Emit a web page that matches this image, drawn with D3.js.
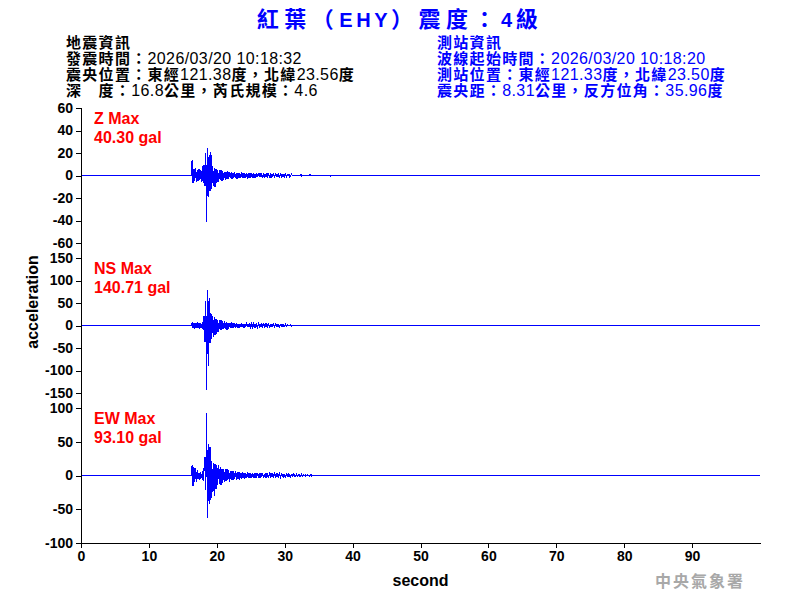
<!DOCTYPE html>
<html>
<head>
<meta charset="utf-8">
<script src="https://cdn.jsdelivr.net/npm/d3@7"></script>
<style>
  body { margin: 0; background: #fff; }
  svg text { font-family: "Liberation Sans", Arial, "Noto Sans CJK TC", sans-serif; }
</style>
</head>
<body>
<div id="chart"></div>
<script>
/* ---- data ---- */
const title = '紅葉（EHY）震度：4級'
const quakeInfo = ['地震資訊', '發震時間：2026/03/20 10:18:32', '震央位置：東經121.38度，北緯23.56度', '深　度：16.8公里，芮氏規模：4.6']
const stationInfo = ['測站資訊', '波線起始時間：2026/03/20 10:18:20', '測站位置：東經121.33度，北緯23.50度', '震央距：8.31公里，反方位角：35.96度']
const channels = ['Z Max', 'NS Max', 'EW Max']
const maxLabels = ['40.30 gal', '140.71 gal', '93.10 gal']
const yDomains = [[-60, 60], [-150, 150], [-100, 100]]
const yTicks = [[-60, -40, -20, 0, 20, 40, 60], [-150, -100, -50, 0, 50, 100, 150], [-100, -50, 0, 50, 100]]
const xTicks = [0, 10, 20, 30, 40, 50, 60, 70, 80, 90]
const recordLength = 100   // seconds
const sampleStart = 16.25  // first sample, seconds
const sampleStep = 0.125   // seconds between samples

// acceleration samples (gal), 8 per second
const zWave = [
  0, 14, -7, 6, -5, 7, -6, 5,
  -5, 6, -4, 5, -6, 8, -7, 9,
  -9, 20, -41, 24, -19, 18, -14, 21,
  -12, 8, -9, 7, -10, 6, -7, 5,
  -6, 5, -4, 5, -5, 4, -4, 3,
  -4, 3, -3, 4, -3, 3, -2, 3,
  -3, 2, -2, 3, -2, 2, -3, 2,
  -2, 2, -2, 3, -2, 2, -2, 2,
  -2, 2, -3, 2, -2, 2, -2, 2,
  -2, 2, -2, 1, -2, 2, -1, 2,
  -1, 2, -1, 1, -2, 1, -1, 1,
  -1, 2, -1, 1, -1, 1, -2, 1,
  -1, 1, -1, 1, -1, 1, -1, 1,
  -1, 1, -1, 1, -1, 1, -1, 1,
  -1, 1, 0, 1, -1, 0, 1, 0,
  0, 0, 0, 0, 0, 0, 0, 0,
  0, 1, -0.5, 0, 0, 0, 0, 0,
  0, 0, 0, 0, 1, 0, 0, 0,
  0, 0, 0, 0, 0, 0, 0, 0,
  0, 0, 0, 0, 0, 0, 0, 0,
  0, 0, 0, 0, -0.5, 0, 0
]
const nsWave = [
  0, 7, -6, 6, -7, 5, -6, 7,
  -6, 5, -7, 6, -5, 8, -10, 20,
  -37, 54, -144, 78, -91, 60, -39, 28,
  -30, 22, -25, 18, -20, 15, -18, 12,
  -14, 12, -10, 11, -9, 10, -8, 9,
  -8, 7, -9, 6, -7, 6, -6, 7,
  -6, 5, -6, 5, -5, 6, -5, 4,
  -5, 4, -4, 5, -4, 4, -5, 4,
  -4, 3, -4, 4, -3, 3, -4, 3,
  -3, 4, -3, 3, -3, 3, -3, 4,
  -3, 3, -2, 3, -3, 2, -3, 3,
  -2, 3, -2, 2, -3, 2, -2, 2,
  -2, 3, -2, 2, -2, 2, -2, 2,
  -2, 2, -1, 2, -2, 1, -1, 3,
  -1, 1, -1, 1, 0, 2, -1, 0
]
const ewWave = [
  0, 15, -16, 12, -10, 11, -9, 8,
  -5, 4, -6, 5, -4, 6, -8, 10,
  27, -22, 93, -63, 47, -42, 42, -37,
  22, -25, 18, -30, 17, -20, 15, -14,
  15, -12, 12, -14, 10, -11, 9, -10,
  9, -8, 10, -7, 8, -9, 7, -7,
  6, -7, 6, -5, 7, -6, 5, -5,
  5, -6, 4, -5, 5, -4, 4, -5,
  4, -4, 5, -3, 4, -4, 3, -4,
  3, -4, 3, -3, 4, -3, 3, -3,
  3, -3, 3, -2, 3, -3, 2, -3,
  3, -2, 2, -3, 2, -2, 3, -2,
  2, -2, 2, -2, 2, -2, 2, -2,
  2, -2, 2, -1, 2, -2, 1, -2,
  2, -1, 2, -2, 1, -2, 1, -1,
  2, -1, 1, -1, 2, -1, 1, -1,
  1, -1, 2, -1, 1, 0, 1, -1,
  0, 1, 0, -1, 0, 1, -1, 0
]
const waves = [zWave, nsWave, ewWave]

/* ---- layout ---- */
const W = 800, H = 600
const margin = { left: 81, right: 40, top: 108 }
const panelH = 135, panelGap = 15

const svg = d3.select('#chart').append('svg').attr('width', W).attr('height', H)

const x = d3.scaleLinear().domain([0, recordLength]).range([margin.left, W - margin.right])

/* mixed text: CJK runs in Noto CJK bold, latin runs in Liberation Sans */
const cjkRe = /([\u3000-\u303f\u3400-\u9fff\uff00-\uffef]+)/
function richText(sel, str, o) {
  str.split(cjkRe).filter(s => s).forEach(s => {
    const cjk = cjkRe.test(s)
    sel.append('tspan').text(s)
      .attr('font-family', cjk ? '"Noto Sans CJK TC"' : '"Liberation Sans", Arial')
      .attr('font-weight', cjk || o.latinBold ? 'bold' : 'normal')
      .attr('font-size', cjk ? o.cjkSize : o.latinSize)
      .attr('letter-spacing', cjk ? o.cjkSpacing : o.latinSpacing)
  })
}

/* title */
const t = svg.append('text')
  .attr('x', W / 2).attr('y', 27)
  .attr('text-anchor', 'middle')
  .attr('fill', '#0000ff')
richText(t, title, { latinBold: true, cjkSize: 22, latinSize: 20, cjkSpacing: 5.5, latinSpacing: 3.5 })

/* header blocks */
const headerStyle = { cjkSize: 15, latinSize: 16, cjkSpacing: 1.3, latinSpacing: 0.4 }
quakeInfo.forEach((s, i) => {
  const tx = svg.append('text').attr('x', 66).attr('y', 48 + i * 16).attr('fill', '#000')
  richText(tx, s, headerStyle)
})
stationInfo.forEach((s, i) => {
  const tx = svg.append('text').attr('x', 437).attr('y', 48 + i * 16).attr('fill', '#0000ff')
  richText(tx, s, headerStyle)
})

/* panels */
const line = d3.line()
waves.forEach((wave, p) => {
  const top = margin.top + p * (panelH + panelGap)
  const y = d3.scaleLinear().domain(yDomains[p]).range([top + panelH, top])
  const g = svg.append('g')

  const yAxis = g.append('g').attr('transform', `translate(${margin.left},0)`)
    .call(d3.axisLeft(y).tickValues(yTicks[p]).tickFormat(d => String(d))
      .tickSize(5).tickSizeOuter(0).tickPadding(3))
  yAxis.select('.domain').remove()
  yAxis.selectAll('.tick line').attr('stroke', '#000').attr('shape-rendering', 'crispEdges')
  yAxis.selectAll('.tick text')
    .attr('font-family', '"Liberation Sans", Arial').attr('font-weight', 'bold')
    .attr('font-size', 14).attr('fill', '#000')

  const pts = [[0, 0]]
    .concat(wave.map((v, i) => [sampleStart + i * sampleStep, v]))
    .concat([[recordLength, 0]])
  g.append('path')
    .attr('d', line(pts.map(d => [x(d[0]), y(d[1])])))
    .attr('fill', 'none').attr('stroke', '#0000ff').attr('stroke-width', 1.2)
    .attr('shape-rendering', 'crispEdges')

  g.append('text').attr('x', 94).attr('y', top + 16)
    .attr('font-size', 16).attr('font-weight', 'bold').attr('fill', '#ff0000').text(channels[p])
  g.append('text').attr('x', 94).attr('y', top + 35)
    .attr('font-size', 16).attr('font-weight', 'bold').attr('fill', '#ff0000').text(maxLabels[p])
})

/* continuous y axis line */
const bottom = margin.top + 3 * panelH + 2 * panelGap
svg.append('line')
  .attr('x1', margin.left).attr('x2', margin.left)
  .attr('y1', margin.top).attr('y2', bottom)
  .attr('stroke', '#000').attr('shape-rendering', 'crispEdges')

/* x axis */
const xAxis = svg.append('g').attr('transform', `translate(0,${bottom})`)
  .call(d3.axisBottom(x).tickValues(xTicks).tickSize(5).tickSizeOuter(0).tickPadding(3))
xAxis.select('.domain').attr('stroke', '#000').attr('shape-rendering', 'crispEdges')
xAxis.selectAll('.tick line').attr('stroke', '#000').attr('shape-rendering', 'crispEdges')
xAxis.selectAll('.tick text')
  .attr('font-family', '"Liberation Sans", Arial').attr('font-weight', 'bold')
  .attr('font-size', 14).attr('fill', '#000')

/* axis titles */
svg.append('text')
  .attr('x', (x.range()[0] + x.range()[1]) / 2).attr('y', 586)
  .attr('text-anchor', 'middle').attr('font-size', 16).attr('font-weight', 'bold')
  .text('second')
svg.append('text')
  .attr('transform', 'translate(38,302) rotate(-90)')
  .attr('text-anchor', 'middle').attr('font-size', 16).attr('font-weight', 'bold')
  .text('acceleration')

/* watermark */
svg.append('text')
  .attr('x', 745).attr('y', 587).attr('text-anchor', 'end')
  .attr('font-family', '"Noto Sans CJK TC"').attr('font-weight', 'bold')
  .attr('font-size', 16).attr('letter-spacing', 2).attr('fill', '#a8a8a8')
  .text('中央氣象署')
</script>
</body>
</html>
